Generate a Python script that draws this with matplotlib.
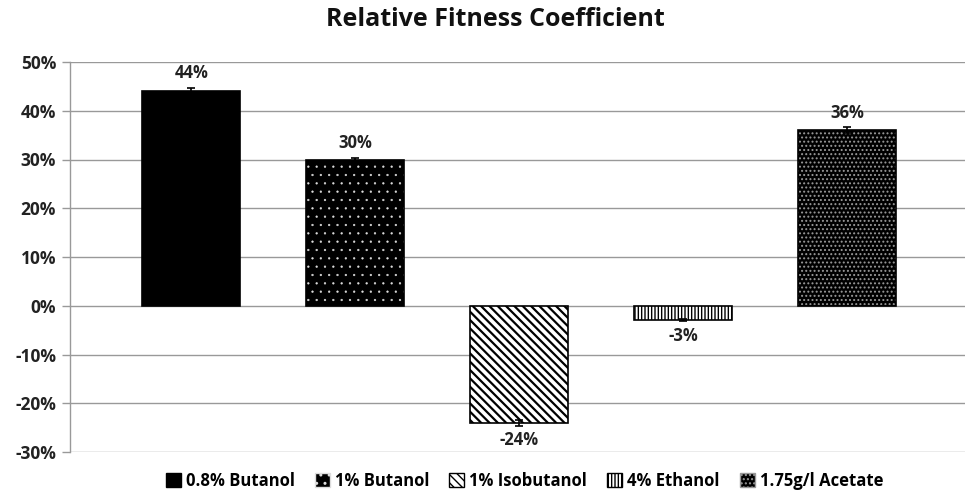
import matplotlib
matplotlib.use("Agg")
import matplotlib.pyplot as plt
from matplotlib.patches import Patch
from matplotlib.ticker import PercentFormatter

categories = ["0.8% Butanol", "1% Butanol", "1% Isobutanol", "4% Ethanol", "1.75g/l Acetate"]
values = [44, 30, -24, -3, 36]
errors = [0.7, 0.3, 0.6, 0.2, 0.6]
labels = ["44%", "30%", "-24%", "-3%", "36%"]

# face colour, hatch colour, hatch pattern, hatch line width
styles = [
    ("black", "black", None, 1.0),
    ("black", "#dddddd", "..", 0.4),
    ("white", "black", "\\\\\\\\", 1.6),
    ("white", "black", "|||||", 1.0),
    ("black", "#999999", "....", 0.9),
]

plt.rcParams["axes.unicode_minus"] = False
fig = plt.figure(figsize=(9.71, 5.0), dpi=100)
ax = fig.add_axes([0.072, 0.096, 0.922, 0.78])

x = list(range(len(categories)))
w = 0.6
for i, (v, (fc, hc, hatch, hlw)) in enumerate(zip(values, styles)):
    plt.rcParams["hatch.linewidth"] = hlw
    ax.bar(x[i], v, width=w, color=fc, edgecolor=hc, hatch=hatch, linewidth=0, zorder=3)
    ax.bar(x[i], v, width=w, fill=False, edgecolor="black", linewidth=1.2, zorder=4)
    ax.errorbar(x[i], v, yerr=errors[i], fmt="none", ecolor="black", elinewidth=1.2,
                capsize=3, capthick=1.2, zorder=5)
    if v >= 0:
        ax.annotate(labels[i], (x[i], v + errors[i]), xytext=(0, 4), textcoords="offset points",
                    ha="center", va="bottom", fontsize=12, fontweight="bold",
                    family="Open Sans", color="#222222")
    else:
        ax.annotate(labels[i], (x[i], v - errors[i]), xytext=(0, -4), textcoords="offset points",
                    ha="center", va="top", fontsize=12, fontweight="bold",
                    family="Open Sans", color="#222222")

ax.set_ylim(-30, 50)
ax.set_xlim(-0.74, 4.72)
ax.set_yticks(range(-30, 51, 10))
ax.yaxis.set_major_formatter(PercentFormatter(decimals=0))
ax.set_xticks([])
for lab in ax.get_yticklabels():
    lab.set_fontweight("bold")
    lab.set_family("Open Sans")
    lab.set_fontsize(12.5)
    lab.set_color("#222222")
ax.tick_params(axis="y", length=6, color="#999999", width=1.0, pad=4)
ax.grid(axis="y", color="#999999", linewidth=1.0, zorder=0)
for name, s in ax.spines.items():
    s.set_visible(name == "left")
ax.spines["left"].set_color("#999999")
ax.spines["left"].set_linewidth(1.0)

fig.suptitle("Relative Fitness Coefficient", x=0.51, y=0.985, fontsize=18, fontweight="bold",
             family="Open Sans", color="#111111")

plt.rcParams["hatch.linewidth"] = 1.0
handles = []
for (fc, hc, hatch, hlw), name in zip(styles, categories):
    handles.append(Patch(facecolor=fc, edgecolor="black" if hatch is None else hc,
                         hatch=hatch, linewidth=1, label=name))
leg = fig.legend(handles=handles, loc="lower center", ncol=5, frameon=False,
                 bbox_to_anchor=(0.54, -0.01), handlelength=0.9, handleheight=0.9,
                 handletextpad=0.3, columnspacing=1.2,
                 prop={"family": "Open Sans", "weight": "bold", "size": 12})

fig.savefig("out.png", dpi=100)
